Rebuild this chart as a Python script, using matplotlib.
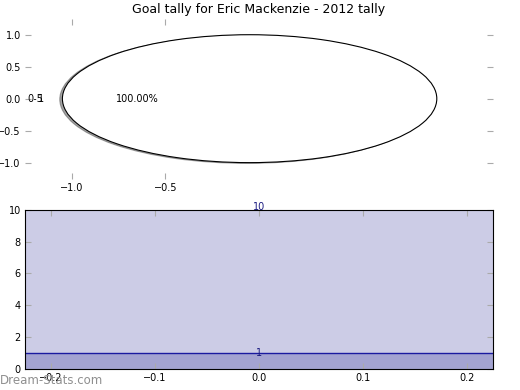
import matplotlib
matplotlib.use("Agg")
import matplotlib.pyplot as plt

# Data
pie_values = [1]
pie_labels = ['0-5']
pie_count_label = '1'
total_value = 10
goal_value = 1
title = 'Goal tally for Eric Mackenzie - 2012 tally'

fig = plt.figure(figsize=(5.2, 3.9), dpi=100)

def style_ticks(ax):
    ax.tick_params(direction='in', length=4, color='#aaaaaa', labelsize=7,
                   top=True, right=True, pad=3)

# pie on top
ax1 = fig.add_axes([0.048, 0.542, 0.9, 0.41])
wedges, texts, autotexts = ax1.pie(pie_values, labels=pie_labels, autopct='%1.2f%%',
                                   explode=[0.05], colors=['white'],
                                   shadow={'ox': -0.01, 'oy': -0.008, 'shade': 0.7},
                                   wedgeprops=dict(edgecolor='black', linewidth=0.8),
                                   textprops=dict(fontsize=7), frame=True)
lx, ly = texts[0].get_position()
ax1.text(lx, ly, pie_count_label, ha='right', va='center', fontsize=7)
ax1.set_aspect('auto')
ax1.set_xlim(-1.25, 1.25)
ax1.set_ylim(-1.25, 1.25)
ax1.set_xticks([-1.0, -0.5])
ax1.set_yticks([-1.0, -0.5, 0.0, 0.5, 1.0])
for s in ax1.spines.values():
    s.set_visible(False)
style_ticks(ax1)
ax1.set_title(title, fontsize=9, pad=4)

# filled tally below
ax2 = fig.add_axes([0.048, 0.054, 0.9, 0.408])
ax2.set_xlim(-0.225, 0.225)
ax2.set_ylim(0, total_value)
ax2.axhspan(0, total_value, color='#ccccE6', lw=0)
ax2.axhspan(0, goal_value, color='#a3a3d1', lw=0)
ax2.axhline(goal_value, color='#1a1aa0', lw=1)
ax2.text(0, total_value, str(total_value), ha='center', va='baseline', fontsize=7,
         color='#1a1a80', clip_on=False)
ax2.text(0, goal_value, str(goal_value), ha='center', va='center', fontsize=7, color='#1a1a80')
ax2.set_xticks([-0.2, -0.1, 0.0, 0.1, 0.2])
ax2.set_yticks(range(0, total_value + 1, 2))
style_ticks(ax2)

fig.text(0.0, 0.008, 'Dream-Stats.com', fontsize=8.5, color='#8f8f8f', ha='left', va='bottom')

fig.savefig('out.png', dpi=100)
